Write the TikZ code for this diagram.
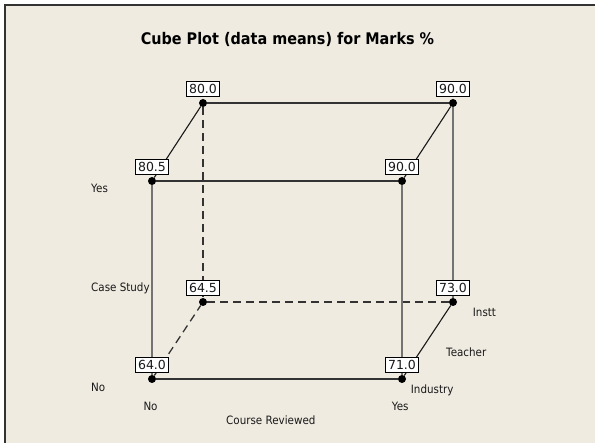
\documentclass[tikz,border=0pt]{standalone}
\usepackage{fontspec}
\setmainfont{DejaVu Sans}[FakeStretch=0.9]
\newfontfamily\numfont{DejaVu Sans}
\usetikzlibrary{positioning}
\definecolor{bgc}{HTML}{EFEBE1}
\begin{document}
\begin{tikzpicture}[x=1pt,y=-1pt,
  lbl/.style={font=\fontsize{11.5}{13}\selectfont, inner sep=0pt, text=black!90},
  val/.style={draw=black, line width=1pt, fill=white, font=\numfont\fontsize{12.5}{13}\selectfont,
    inner xsep=2.6pt, inner ysep=0pt, minimum height=14.5pt, text height=9.2pt, text depth=0pt, text=black!90},
  dotpt/.style={circle, fill=black, inner sep=0pt, minimum size=8pt},
  hedge/.style={line width=1.5pt, draw=black!80},
  vedge/.style={line width=1.6pt, draw=black!55},
  diag/.style={line width=1.1pt, draw=black!90},
  hid/.style={line width=1.3pt, draw=black!80, dash pattern=on 8pt off 5pt}]
\useasboundingbox (0,0) rectangle (595,443);
\fill[white] (0,0) rectangle (595,443);
\fill[bgc] (5,5) rectangle (595,443);
\draw[line width=1.8pt, black!80] (5,443) -- (5,5) -- (595,5);
% title
\node[font=\bfseries\fontsize{16}{18}\selectfont, inner sep=0pt, anchor=base] (title) at (287.5,44.5) {Cube Plot (data means) for Marks \%};
% points
\node[dotpt] (fbl) at (152,379) {};
\node[dotpt] (fbr) at (402,379) {};
\node[dotpt] (ftl) at (152,181) {};
\node[dotpt] (ftr) at (402,181) {};
\node[dotpt] (bbl) at (203,302) {};
\node[dotpt] (bbr) at (453,302) {};
\node[dotpt] (btl) at (203,103) {};
\node[dotpt] (btr) at (453,103) {};
% edges
\draw[hid] (bbl) -- (bbr);
\draw[hid] (btl) -- (bbl);
\draw[hid] (fbl) -- (bbl);
\draw[hedge] (fbl) -- (fbr);
\draw[hedge] (ftl) -- (ftr);
\draw[hedge] (btl) -- (btr);
\draw[vedge] (fbl) -- (ftl);
\draw[vedge] (fbr) -- (ftr);
\draw[vedge] (bbr) -- (btr);
\draw[diag] (ftl) -- (btl);
\draw[diag] (ftr) -- (btr);
\draw[diag] (fbr) -- (bbr);
% values
\node[val, above=2pt of fbl] (vfbl) {64.0};
\node[val, above=2pt of fbr] (vfbr) {71.0};
\node[val, above=2pt of ftl] (vftl) {80.5};
\node[val, above=2pt of ftr] (vftr) {90.0};
\node[val, above=2pt of bbl] (vbbl) {64.5};
\node[val, above=2pt of bbr] (vbbr) {73.0};
\node[val, above=2pt of btl] (vbtl) {80.0};
\node[val, above=2pt of btr] (vbtr) {90.0};
% axis labels
\node[lbl, anchor=base west] (yesl) at (91,193) {Yes};
\node[lbl, anchor=base west] (casel) at (91,291.5) {Case Study};
\node[lbl, anchor=base west] (nol) at (91,391.5) {No};
\node[lbl, anchor=base west] (nob) at (143.3,410.7) {No};
\node[lbl, anchor=base west] (course) at (226,425) {Course Reviewed};
\node[lbl, anchor=base west] (yesb) at (391.7,410.7) {Yes};
\node[lbl, anchor=base west] (industry) at (410.7,394) {Industry};
\node[lbl, anchor=base west] (teacher) at (446,356.5) {Teacher};
\node[lbl, anchor=base west] (instt) at (472.7,317) {Instt};
\end{tikzpicture}
\end{document}
